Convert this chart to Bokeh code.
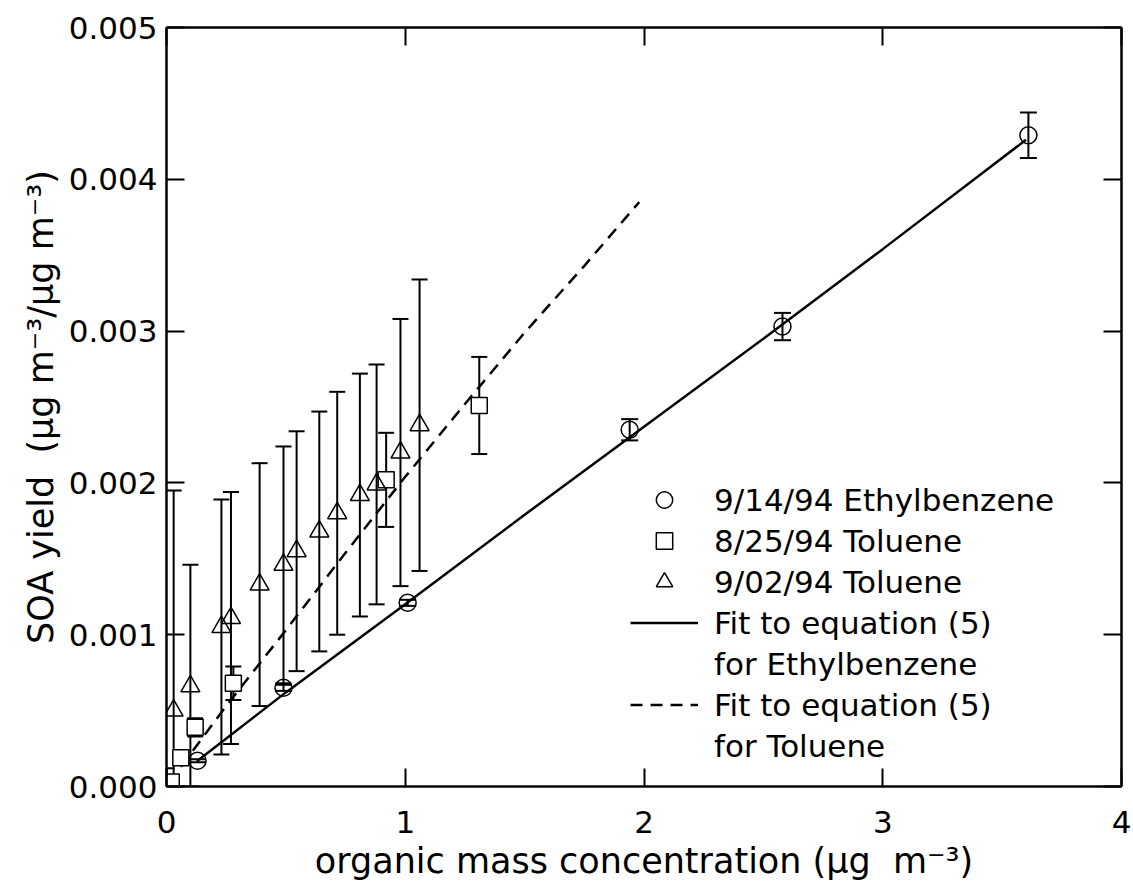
import numpy as np
from bokeh.plotting import figure
from bokeh.models import (ColumnDataSource, Whisker, TeeHead, Range1d, LinearAxis,
                          FixedTicker, Legend, LegendItem, PrintfTickFormatter,
                          CustomJSTickFormatter)
from bokeh.embed import file_html
from bokeh.resources import INLINE

# ---------------- data ----------------
# 9/14/94 Ethylbenzene
eb_x = [0.13, 0.49, 1.01, 1.94, 2.58, 3.61]
eb_y = [0.00017, 0.00065, 0.00121, 0.00235, 0.00303, 0.00429]
eb_err = [0.00001, 0.00002, 0.00002, 0.00007, 0.00009, 0.00015]

# 8/25/94 Toluene
t1_x = [0.00, 0.02, 0.06, 0.12, 0.28, 0.92, 1.31]
t1_y = [0.00002, 0.00003, 0.00019, 0.00039, 0.00068, 0.00202, 0.00251]
t1_err = [0.00010, 0.00003, 0.00003, 0.00006, 0.00011, 0.00031, 0.00032]

# 9/02/94 Toluene
t2_x = [0.03, 0.10, 0.23, 0.27, 0.39, 0.49, 0.545, 0.64, 0.715, 0.81, 0.88, 0.98, 1.06]
t2_y = [0.00050, 0.00066, 0.00105, 0.00111, 0.00133, 0.00146, 0.00155, 0.00168,
        0.00180, 0.00192, 0.00199, 0.00220, 0.00238]
t2_err = [0.00145, 0.00080, 0.00084, 0.00083, 0.00080, 0.00078, 0.00079, 0.00079,
          0.00080, 0.00080, 0.00079, 0.00088, 0.00096]

# Fit to equation (5) for Ethylbenzene
fit_eb_x = [0.13, 0.5, 1.0, 1.5, 2.0, 2.5, 3.0, 3.6]
fit_eb_y = [0.00017, 0.00062, 0.00120, 0.00179, 0.00237, 0.00295, 0.00354, 0.00426]

# Fit to equation (5) for Toluene
fit_tol_x = [0.06, 0.25, 0.5, 0.75, 1.0, 1.25, 1.5, 1.75, 1.98]
fit_tol_y = [0.00013, 0.00053, 0.00103, 0.00154, 0.00204, 0.00252, 0.00299, 0.00343, 0.00385]

x_ticks = [0, 1, 2, 3, 4]
y_ticks = [0.0, 0.001, 0.002, 0.003, 0.004, 0.005]

legend_labels = ["9/14/94 Ethylbenzene", "8/25/94 Toluene", "9/02/94 Toluene",
                 "Fit to equation (5)", "for Ethylbenzene",
                 "Fit to equation (5)", "for Toluene"]

x_title = "organic mass concentration (\u03bcg\u00a0\u00a0m\u207b\u00b3)"
y_title = "SOA yield\u00a0\u00a0(\u03bcg m\u207b\u00b3/\u03bcg m\u207b\u00b3)"

FONT = "DejaVu Sans"

# ---------------- figure ----------------
p = figure(width=1133, height=893, x_range=Range1d(0, 4), y_range=Range1d(0, 0.005),
           output_backend="svg", toolbar_location=None,
           min_border_left=166, min_border_right=12, min_border_top=27,
           min_border_bottom=107)
p.grid.visible = False
p.outline_line_color = None
p.background_fill_color = "white"
p.border_fill_color = "white"


def style_axis(ax, ticks):
    ax.ticker = FixedTicker(ticks=ticks)
    ax.major_tick_in = 18
    ax.major_tick_out = 0
    ax.minor_tick_in = 0
    ax.minor_tick_out = 0
    ax.axis_line_width = 2.5
    ax.axis_line_color = "black"
    ax.major_tick_line_width = 2
    ax.major_tick_line_color = "black"
    ax.major_label_text_font = FONT
    ax.major_label_text_font_size = "31px"
    ax.major_label_text_color = "black"
    ax.axis_label_text_font = FONT
    ax.axis_label_text_font_size = "35px"
    ax.axis_label_text_font_style = "normal"
    ax.axis_label_text_color = "black"


xa = p.xaxis[0]
style_axis(xa, x_ticks)
xa.axis_label = x_title
xa.major_label_standoff = 24
xa.axis_label_standoff = 5

ya = p.yaxis[0]
style_axis(ya, y_ticks)
ya.formatter = PrintfTickFormatter(format="%.3f")
ya.axis_label = y_title
ya.major_label_standoff = 9
ya.axis_label_standoff = 5

blank = CustomJSTickFormatter(code="return ''")
top = LinearAxis(formatter=blank)
style_axis(top, x_ticks)
top.major_label_standoff = 0
top.major_label_text_font_size = "8px"
p.add_layout(top, "above")

right = LinearAxis(formatter=blank)
style_axis(right, y_ticks)
right.major_label_standoff = 0
right.major_label_text_font_size = "8px"
p.add_layout(right, "right")

# ---------------- fits ----------------
solid_r = p.line(fit_eb_x, fit_eb_y, line_color="black", line_width=2.5)
dash_r = p.line(fit_tol_x, fit_tol_y, line_color="black", line_width=2.5, line_dash="12 8")


# ---------------- error bars ----------------
def add_errors(xs, ys, errs, head):
    ys = np.array(ys)
    errs = np.array(errs)
    src = ColumnDataSource(dict(base=xs,
                                upper=ys + errs,
                                lower=np.maximum(ys - errs, 0.0)))
    w = Whisker(base="base", upper="upper", lower="lower", source=src,
                dimension="height", line_color="black", line_width=2,
                upper_head=TeeHead(size=head, line_width=2, line_color="black"),
                lower_head=TeeHead(size=head, line_width=2, line_color="black"))
    p.add_layout(w)


add_errors(eb_x, eb_y, eb_err, 17)
add_errors(t1_x, t1_y, t1_err, 16)
add_errors(t2_x, t2_y, t2_err, 16)

# ---------------- markers ----------------
circ_r = p.scatter(eb_x, eb_y, marker="circle", size=17, line_color="black",
                   line_width=1.5, fill_alpha=0)
sq_r = p.scatter(t1_x, t1_y, marker="square", size=16, line_color="black",
                 line_width=1.5, fill_color="white")
tri_r = p.scatter(t2_x, t2_y, marker="triangle", size=19, line_color="black",
                  line_width=1.5, fill_alpha=0)

blank1 = p.line([], [], line_alpha=0)
blank2 = p.line([], [], line_alpha=0)

renderers = [circ_r, sq_r, tri_r, solid_r, blank1, dash_r, blank2]
items = [LegendItem(label=lab, renderers=[r]) for lab, r in zip(legend_labels, renderers)]
legend = Legend(items=items, location=(464, 20), glyph_width=68, glyph_height=41,
                label_height=41, label_standoff=16, spacing=0, padding=0, margin=0,
                border_line_color=None, background_fill_alpha=0,
                label_text_font=FONT, label_text_font_size="31px",
                label_text_color="black")
p.add_layout(legend)

open("out.html", "w").write(file_html(p, INLINE))
